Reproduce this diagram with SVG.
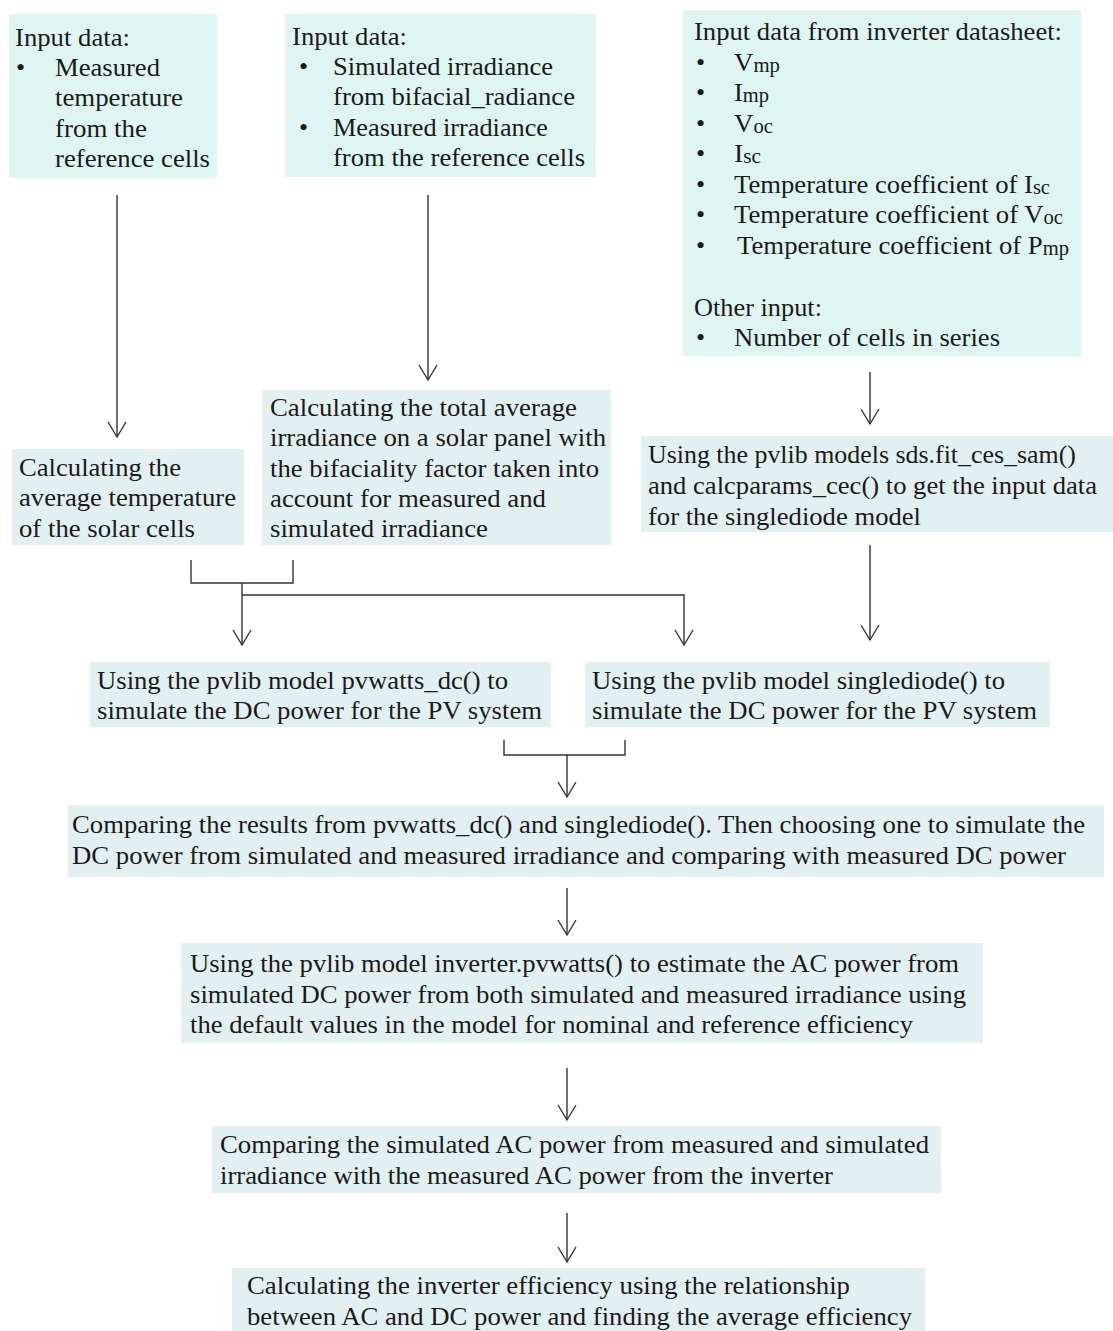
<svg xmlns="http://www.w3.org/2000/svg" width="1113" height="1331" viewBox="0 0 1113 1331">
<style>
text{font-family:"Liberation Serif","Times New Roman",serif;font-size:26px;fill:#1a1a1a}
.sub{font-size:20px}
.top{fill:#dff5f2}
.low{fill:#e3f0f1}
.ln{stroke:#333;stroke-width:1.4;fill:none}
</style>
<defs>
<marker id="ah" markerUnits="userSpaceOnUse" markerWidth="40" markerHeight="40" viewBox="-20 -20 40 40" refX="0" refY="0" orient="auto">
<path d="M-15,-9 L0,0 L-15,9" fill="none" stroke="#333" stroke-width="1.4"/>
</marker>
</defs>
<rect width="1113" height="1331" fill="#fff"/>

<g id="n1">
<rect class="top" x="9" y="14" width="208" height="164"/>
<text x="15" y="46" textLength="115" lengthAdjust="spacingAndGlyphs">Input data:</text>
<text x="16" y="76">•</text>
<text x="55" y="76" textLength="105" lengthAdjust="spacingAndGlyphs">Measured</text>
<text x="55" y="106" textLength="128" lengthAdjust="spacingAndGlyphs">temperature</text>
<text x="55" y="137" textLength="92" lengthAdjust="spacingAndGlyphs">from the</text>
<text x="55" y="167" textLength="155" lengthAdjust="spacingAndGlyphs">reference cells</text>
</g>

<g id="n2">
<rect class="top" x="285" y="14" width="311" height="163"/>
<text x="292" y="45" textLength="115" lengthAdjust="spacingAndGlyphs">Input data:</text>
<text x="299" y="75">•</text>
<text x="333" y="75" textLength="220" lengthAdjust="spacingAndGlyphs">Simulated irradiance</text>
<text x="333" y="105" textLength="242" lengthAdjust="spacingAndGlyphs">from bifacial_radiance</text>
<text x="299" y="136">•</text>
<text x="333" y="136" textLength="215" lengthAdjust="spacingAndGlyphs">Measured irradiance</text>
<text x="333" y="166" textLength="252" lengthAdjust="spacingAndGlyphs">from the reference cells</text>
</g>

<g id="n3">
<rect class="top" x="683" y="10" width="398" height="346"/>
<text x="694" y="40" textLength="368" lengthAdjust="spacingAndGlyphs">Input data from inverter datasheet:</text>
<text x="696" y="71">•</text>
<text x="734" y="71" textLength="46" lengthAdjust="spacingAndGlyphs">V<tspan class="sub" dy="1">mp</tspan></text>
<text x="696" y="101">•</text>
<text x="734" y="101" textLength="35" lengthAdjust="spacingAndGlyphs">I<tspan class="sub" dy="1">mp</tspan></text>
<text x="696" y="132">•</text>
<text x="734" y="132" textLength="39" lengthAdjust="spacingAndGlyphs">V<tspan class="sub" dy="1">oc</tspan></text>
<text x="696" y="162">•</text>
<text x="734" y="162" textLength="27" lengthAdjust="spacingAndGlyphs">I<tspan class="sub" dy="1">sc</tspan></text>
<text x="696" y="193">•</text>
<text x="734" y="193" textLength="316" lengthAdjust="spacingAndGlyphs">Temperature coefficient of I<tspan class="sub" dy="1">sc</tspan></text>
<text x="696" y="223">•</text>
<text x="734" y="223" textLength="329" lengthAdjust="spacingAndGlyphs">Temperature coefficient of V<tspan class="sub" dy="1">oc</tspan></text>
<text x="696" y="254">•</text>
<text x="737" y="254" textLength="332" lengthAdjust="spacingAndGlyphs">Temperature coefficient of P<tspan class="sub" dy="1">mp</tspan></text>
<text x="694" y="316" textLength="128" lengthAdjust="spacingAndGlyphs">Other input:</text>
<text x="696" y="346">•</text>
<text x="734" y="346" textLength="266" lengthAdjust="spacingAndGlyphs">Number of cells in series</text>
</g>

<g id="n4">
<rect class="low" x="12" y="449" width="232" height="96"/>
<text x="19" y="476" textLength="162" lengthAdjust="spacingAndGlyphs">Calculating the</text>
<text x="19" y="506" textLength="217" lengthAdjust="spacingAndGlyphs">average temperature</text>
<text x="19" y="537" textLength="176" lengthAdjust="spacingAndGlyphs">of the solar cells</text>
</g>

<g id="n5">
<rect class="low" x="262" y="390" width="349" height="155"/>
<text x="270" y="416" textLength="307" lengthAdjust="spacingAndGlyphs">Calculating the total average</text>
<text x="270" y="446" textLength="336" lengthAdjust="spacingAndGlyphs">irradiance on a solar panel with</text>
<text x="270" y="477" textLength="329" lengthAdjust="spacingAndGlyphs">the bifaciality factor taken into</text>
<text x="270" y="507" textLength="276" lengthAdjust="spacingAndGlyphs">account for measured and</text>
<text x="270" y="537" textLength="218" lengthAdjust="spacingAndGlyphs">simulated irradiance</text>
</g>

<g id="n6">
<rect class="low" x="641" y="436" width="472" height="96"/>
<text x="648" y="463" textLength="428" lengthAdjust="spacingAndGlyphs">Using the pvlib models sds.fit_ces_sam()</text>
<text x="648" y="494" textLength="449" lengthAdjust="spacingAndGlyphs">and calcparams_cec() to get the input data</text>
<text x="648" y="525" textLength="273" lengthAdjust="spacingAndGlyphs">for the singlediode model</text>
</g>

<g id="n7">
<rect class="low" x="90" y="662" width="461" height="65"/>
<text x="97" y="689" textLength="411" lengthAdjust="spacingAndGlyphs">Using the pvlib model pvwatts_dc() to</text>
<text x="97" y="719" textLength="445" lengthAdjust="spacingAndGlyphs">simulate the DC power for the PV system</text>
</g>

<g id="n8">
<rect class="low" x="585" y="662" width="465" height="65"/>
<text x="592" y="689" textLength="413" lengthAdjust="spacingAndGlyphs">Using the pvlib model singlediode() to</text>
<text x="592" y="719" textLength="445" lengthAdjust="spacingAndGlyphs">simulate the DC power for the PV system</text>
</g>

<g id="n9">
<rect class="low" x="68" y="805" width="1036" height="72"/>
<text x="72" y="833" textLength="1013" lengthAdjust="spacingAndGlyphs">Comparing the results from pvwatts_dc() and singlediode(). Then choosing one to simulate the</text>
<text x="72" y="864" textLength="994" lengthAdjust="spacingAndGlyphs">DC power from simulated and measured irradiance and comparing with measured DC power</text>
</g>

<g id="n10">
<rect class="low" x="181" y="943" width="802" height="100"/>
<text x="190" y="972" textLength="769" lengthAdjust="spacingAndGlyphs">Using the pvlib model inverter.pvwatts() to estimate the AC power from</text>
<text x="190" y="1003" textLength="776" lengthAdjust="spacingAndGlyphs">simulated DC power from both simulated and measured irradiance using</text>
<text x="190" y="1033" textLength="723" lengthAdjust="spacingAndGlyphs">the default values in the model for nominal and reference efficiency</text>
</g>

<g id="n11">
<rect class="low" x="212" y="1126" width="729" height="67"/>
<text x="220" y="1153" textLength="709" lengthAdjust="spacingAndGlyphs">Comparing the simulated AC power from measured and simulated</text>
<text x="220" y="1184" textLength="613" lengthAdjust="spacingAndGlyphs">irradiance with the measured AC power from the inverter</text>
</g>

<g id="n12">
<rect class="low" x="232" y="1268" width="693" height="63"/>
<text x="247" y="1294" textLength="603" lengthAdjust="spacingAndGlyphs">Calculating the inverter efficiency using the relationship</text>
<text x="247" y="1325" textLength="665" lengthAdjust="spacingAndGlyphs">between AC and DC power and finding the average efficiency</text>
</g>

<g id="connectors">
<path class="ln" d="M117,195 V437" marker-end="url(#ah)"/>
<path class="ln" d="M428,195 V380" marker-end="url(#ah)"/>
<path class="ln" d="M870,372 V424" marker-end="url(#ah)"/>
<path class="ln" d="M191,560 V583 H293 V560"/>
<path class="ln" d="M242,583 V645" marker-end="url(#ah)"/>
<path class="ln" d="M242,595 H684 V645" marker-end="url(#ah)"/>
<path class="ln" d="M870,545 V640" marker-end="url(#ah)"/>
<path class="ln" d="M504,740 V755 H625 V740"/>
<path class="ln" d="M567,755 V797" marker-end="url(#ah)"/>
<path class="ln" d="M567,888 V935" marker-end="url(#ah)"/>
<path class="ln" d="M567,1068 V1120" marker-end="url(#ah)"/>
<path class="ln" d="M567,1213 V1262" marker-end="url(#ah)"/>
</g>
</svg>
